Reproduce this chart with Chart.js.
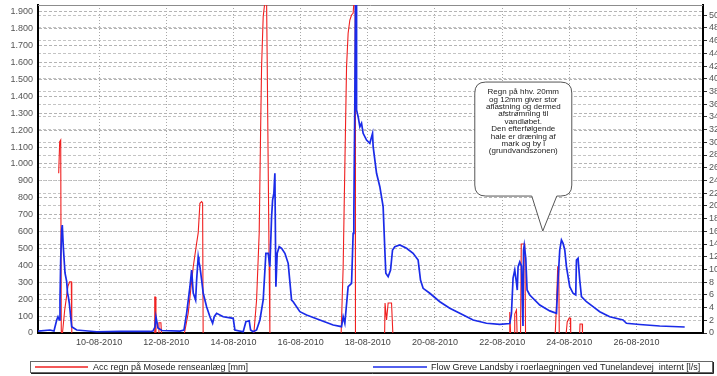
<!DOCTYPE html>
<html><head><meta charset="utf-8">
<script src="https://cdn.jsdelivr.net/npm/chart.js@4.4.0/dist/chart.umd.min.js"></script>
<style>html,body{margin:0;padding:0;background:#fff;}#wrap{width:717px;height:376px;}</style>
</head><body><div id="wrap"><canvas id="c" width="717" height="376"></canvas></div>
<script>
// ---- data ----
const dayTicks = [10, 12, 14, 16, 18, 20, 22, 24, 26];
const leftTicks = [0,100,200,300,400,500,600,700,800,900,1000,1100,1200,1300,1400,1500,1600,1700,1800,1900];
const rightTicks = [0,2,4,6,8,10,12,14,16,18,20,22,24,26,28,30,32,34,36,38,40,42,44,46,48,50];

// Flow (l/s) – x = day of August 2010 (fractional)
const flowDays = [8.18,8.537,8.656,8.737,8.775,8.814,8.835,8.856,8.885,8.903,8.933,8.984,9.034,9.058,9.082,9.112,9.153,9.183,9.332,9.927,10.62,11.513,
11.602,11.662,11.692,11.721,11.751,11.870,12.406,12.525,12.605,12.704,12.754,12.802,12.873,12.903,12.950,12.971,13.001,13.052,13.099,13.200,13.299,13.379,13.427,13.498,13.695,13.992,
14.043,14.290,14.370,14.468,14.510,14.587,14.688,14.787,14.885,14.965,15.034,15.084,15.135,15.165,15.203,15.233,15.263,15.302,15.361,15.433,15.531,15.629,15.730,15.778,15.977,16.177,16.572,16.968,
17.218,17.266,17.316,17.414,17.516,17.563,17.584,17.614,17.635,17.650,17.665,17.712,17.763,17.813,17.861,17.962,18.060,18.141,18.159,18.260,18.358,18.456,18.507,18.536,18.605,18.677,18.736,18.804,18.953,
19.153,19.349,19.498,19.569,19.647,19.846,20.144,20.441,20.739,21.135,21.533,21.929,22.227,22.277,22.325,22.375,22.426,22.450,22.474,22.524,22.575,22.599,22.620,22.637,22.658,22.703,22.742,22.822,
23.120,23.417,23.617,23.664,23.715,23.765,23.813,23.864,23.914,24.012,24.111,24.191,24.212,24.260,24.310,24.361,24.510,24.706,24.905,25.203,25.599,25.700,26.096,26.691,27.435];
const flowValues = [0.31,0.47,0.31,2.05,2.56,2.05,5.19,11.48,16.2,16.99,13.58,9.44,8.07,6.29,5.71,4.72,2.56,0.99,0.47,0.2,0.24,0.24,
0.31,0.94,2.56,1.73,0.79,0.39,0.31,0.47,3.10,7.28,9.91,6.29,5.19,8.34,11.96,11.17,10.43,8.34,6.25,4.14,2.56,1.53,2.56,3.10,2.56,2.31,
0.47,0.20,1.78,1.93,0.47,0.20,0.47,2.05,5.19,12.54,12.54,10.43,18.29,20.92,21.98,25.12,7.28,12.54,13.58,13.32,12.54,10.96,5.19,4.92,3.35,2.83,2.05,1.26,
0.99,2.56,1.53,7.28,7.82,15.68,18.29,36.65,53,53,35.08,34.03,32.45,32.99,31.41,30.36,29.84,31.41,29.31,25.12,23.01,19.87,13.06,9.39,8.86,9.91,13.06,13.58,13.84,
13.32,12.54,11.48,8.34,7.03,6.25,4.92,3.89,3.10,2.05,1.53,1.37,1.49,3.10,8.65,9.91,7.87,6.76,10.38,11.17,10.54,5.19,1.10,13.06,13.84,11.80,6.76,5.98,
4.40,3.48,3.10,8.34,13.06,14.63,14.11,13.06,10.43,7.28,6.25,5.98,11.48,11.75,8.34,5.71,4.92,4.14,3.35,2.56,2.05,1.53,1.34,1.10,0.94];

// Accumulated rain – null separates the rain events
const rainDays = [8.796,8.826,8.856,8.873,8.876,8.89,
8.909,8.975,9.028,9.073,9.123,9.171,9.186,9.2,
11.641,11.656,11.680,11.692,11.70,
11.766,11.781,11.840,11.855,11.87,
12.540,12.653,12.802,12.903,12.950,13.001,13.052,13.081,13.097,13.11,
14.608,14.688,14.766,14.807,14.837,14.885,14.936,14.986,15.004,15.034,15.063,15.084,15.088,15.10,
17.206,17.266,17.316,17.367,17.414,17.465,17.516,17.563,17.593,17.623,17.632,17.64,
18.501,18.513,18.558,18.605,18.706,18.745,18.76,
22.211,22.227,22.251,22.26,
22.361,22.375,22.426,22.444,22.45,
22.548,22.569,22.673,22.697,22.71,
23.581,23.611,23.655,23.685,23.700,23.71,
23.907,23.937,23.996,24.026,24.041,24.05,
24.309,24.318,24.383,24.392];
const rainValues = [945,1132,1142,18,0,null,
0,136,213,278,303,303,0,null,
0,213,213,0,null,
0,61,61,0,null,
0,118,392,531,592,767,777,769,0,null,
0,195,592,1183,1575,1871,1960,1960,1615,984,392,8,0,null,
0,392,984,1575,1773,1851,1881,1891,1980,1980,0,null,
0,177,77,177,177,0,null,
0,124,0,null,
0,112,136,0,null,
0,526,526,0,null,
0,136,392,392,0,null,
0,65,89,89,0,null,
0,53,53,0];

const legendLabels = ["Acc regn på Mosede renseanlæg [mm]", "Flow Greve Landsby i roerlaegningen ved Tunelandevej  internt [l/s]"];
const noteLines = ["Regn på hhv. 20mm","og 12mm giver stor","aflastning og dermed","afstrømning til","vandløbet.","Den efterfølgende","hale er dræning af","mark og by i","(grundvandszonen)"];
const noteAnchor = {day: 23.21, level: 603};

// ---- chart ----
const FONT = "'Liberation Sans', Arial, sans-serif";
const RED = '#f02020', BLUE = '#1a2be8';

const fmtLeft = v => v >= 1000 ? Math.floor(v/1000) + '.' + String(v % 1000).padStart(3,'0') : String(v);

const framePlugin = {
  id: 'frame',
  beforeDatasetsDraw(chart) {
    const {ctx, chartArea: a} = chart;
    ctx.save();
    ctx.strokeStyle = '#8c8c8c'; ctx.lineWidth = 1;
    ctx.beginPath(); ctx.moveTo(a.left, a.top + 0.5); ctx.lineTo(a.right, a.top + 0.5); ctx.stroke();
    ctx.restore();
  },
  afterDraw(chart) {
    const {ctx} = chart;
    const xs = chart.scales.x, ys = chart.scales.y;
    // callout
    const tx = xs.getPixelForValue(noteAnchor.day), ty = ys.getPixelForValue(noteAnchor.level);
    const l = tx - 68, r = tx + 29, t = ty - 149, b = ty - 35, rad = 11;
    ctx.save();
    ctx.beginPath();
    ctx.moveTo(l + rad, t);
    ctx.lineTo(r - rad, t); ctx.quadraticCurveTo(r, t, r, t + rad);
    ctx.lineTo(r, b - rad); ctx.quadraticCurveTo(r, b, r - rad, b);
    ctx.lineTo(tx + 14, b); ctx.lineTo(tx, ty); ctx.lineTo(tx - 11, b);
    ctx.lineTo(l + rad, b); ctx.quadraticCurveTo(l, b, l, b - rad);
    ctx.lineTo(l, t + rad); ctx.quadraticCurveTo(l, t, l + rad, t);
    ctx.closePath();
    ctx.fillStyle = '#fff'; ctx.fill();
    ctx.strokeStyle = '#555'; ctx.lineWidth = 1; ctx.stroke();
    ctx.fillStyle = '#222'; ctx.font = '8px ' + FONT;
    ctx.textAlign = 'center'; ctx.textBaseline = 'middle';
    noteLines.forEach((s, i) => ctx.fillText(s, tx - 19.5, t + 10 + i * 7.4));
    ctx.restore();

    // legend box
    ctx.save();
    ctx.strokeStyle = '#666'; ctx.lineWidth = 1;
    ctx.strokeRect(30.5, 361.5, 682, 11);
    ctx.strokeStyle = '#222';
    ctx.beginPath(); ctx.moveTo(31, 373.5); ctx.lineTo(713.5, 373.5); ctx.lineTo(713.5, 362); ctx.stroke();
    ctx.lineWidth = 1.5;
    ctx.strokeStyle = RED; ctx.beginPath(); ctx.moveTo(35, 367); ctx.lineTo(88, 367); ctx.stroke();
    ctx.strokeStyle = BLUE; ctx.beginPath(); ctx.moveTo(373, 367); ctx.lineTo(427, 367); ctx.stroke();
    ctx.fillStyle = '#222'; ctx.font = '9px ' + FONT; ctx.textBaseline = 'middle'; ctx.textAlign = 'left';
    ctx.fillText(legendLabels[0], 93, 367.5);
    ctx.fillText(legendLabels[1], 431, 367.5);
    ctx.restore();
  }
};

new Chart(document.getElementById('c'), {
  type: 'line',
  data: {
    datasets: [
      {
        label: legendLabels[1], yAxisID: 'y1', order: 0,
        data: flowDays.map((d, i) => ({x: d, y: flowValues[i]})),
        borderColor: BLUE, borderWidth: 1.7, pointRadius: 0, tension: 0, spanGaps: false
      },
      {
        label: legendLabels[0], yAxisID: 'y', order: 1,
        data: rainDays.map((d, i) => ({x: d, y: rainValues[i]})),
        borderColor: RED, borderWidth: 1.1, pointRadius: 0, tension: 0, spanGaps: false
      }
    ]
  },
  options: {
    responsive: false, animation: false, devicePixelRatio: 1,
    layout: {padding: {top: 5, bottom: 23, left: 0, right: 0}},
    plugins: {legend: {display: false}, tooltip: {enabled: false}},
    scales: {
      x: {
        type: 'linear', min: 8.18, max: 27.98,
        afterBuildTicks: s => { s.ticks = dayTicks.map(v => ({value: v})); },
        afterFit: s => { s.height = 20; s.paddingLeft = 0; s.paddingRight = 0; },
        ticks: {callback: v => String(v).padStart(2, '0') + '-08-2010', font: {size: 9, family: FONT}, color: '#444', padding: 4, maxRotation: 0, autoSkip: false},
        grid: {color: '#a8a8a8', lineWidth: 1, drawTicks: false},
        border: {color: '#000', width: 2, dash: [1, 2]}
      },
      y: {
        position: 'left', min: 0, max: 1940,
        afterBuildTicks: s => { s.ticks = leftTicks.map(v => ({value: v})); },
        afterFit: s => { s.width = 38; s.paddingTop = 0; s.paddingBottom = 0; },
        ticks: {callback: v => fmtLeft(v), font: {size: 9, family: FONT}, color: '#555', padding: 5, autoSkip: false},
        grid: {color: '#b4b4b4', lineWidth: 1, drawTicks: false},
        border: {color: '#000', width: 2, dash: [3, 2]}
      },
      y1: {
        position: 'right', min: 0, max: 51.6,
        afterBuildTicks: s => { s.ticks = rightTicks.map(v => ({value: v})); },
        afterFit: s => { s.width = 14; s.paddingTop = 0; s.paddingBottom = 0; },
        ticks: {callback: v => String(v), font: {size: 9, family: FONT}, color: '#555', padding: 2, autoSkip: false},
        grid: {color: '#c4c4c4', lineWidth: 1, drawTicks: true, tickLength: 4, tickColor: '#333'},
        border: {color: '#000', width: 2, dash: [3, 2]}
      }
    }
  },
  plugins: [framePlugin]
});
</script>
</body></html>
